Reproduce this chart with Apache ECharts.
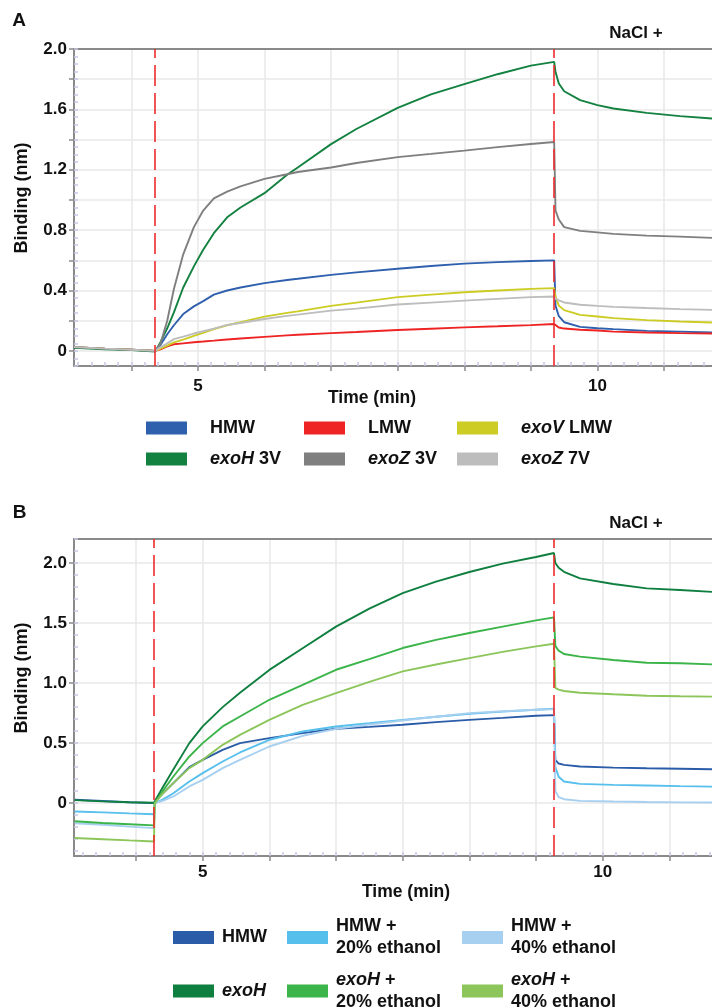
<!DOCTYPE html>
<html>
<head>
<meta charset="utf-8">
<script src="https://cdn.jsdelivr.net/npm/echarts@6/dist/echarts.min.js"></script>
<style>
html, body { margin: 0; padding: 0; background: #fff; }
#chart { width: 712px; height: 1008px; }
</style>
</head>
<body>
<div id="chart"></div>
<script>
const FONT = '"Liberation Sans", Arial, Helvetica, sans-serif';

// ---- panel A (time in seconds) ----
const timeA = [207, 230, 250, 268, 272, 277, 282, 289, 297, 304, 312, 322, 332, 350, 367, 375, 400, 419,
    450, 475, 500, 525, 550, 567.5, 568.5, 571, 575, 587, 600, 612, 637, 662, 686];
const hmwA = [0.025, 0.015, 0.008, 0.0, 0.04, 0.11, 0.17, 0.244, 0.295, 0.33, 0.373, 0.40, 0.42, 0.449, 0.47, 0.478, 0.504, 0.52,
    0.544, 0.562, 0.578, 0.588, 0.596, 0.6, 0.30, 0.23, 0.19, 0.159, 0.15, 0.144, 0.133, 0.128, 0.122];
const lmwA = [0.025, 0.015, 0.008, 0.0, 0.01, 0.03, 0.044, 0.05, 0.057, 0.062, 0.068, 0.076, 0.082, 0.093, 0.103, 0.107, 0.118, 0.125,
    0.138, 0.147, 0.156, 0.163, 0.171, 0.178, 0.165, 0.155, 0.148, 0.14, 0.135, 0.128, 0.122, 0.118, 0.115];
const exoVA = [0.025, 0.015, 0.008, 0.0, 0.015, 0.035, 0.056, 0.075, 0.1, 0.12, 0.145, 0.17, 0.19, 0.227, 0.252, 0.262, 0.298, 0.32,
    0.356, 0.373, 0.389, 0.4, 0.411, 0.416, 0.36, 0.3, 0.27, 0.239, 0.228, 0.217, 0.204, 0.195, 0.188];
const exoH3A = [0.02, 0.01, 0.005, -0.005, 0.06, 0.15, 0.255, 0.42, 0.56, 0.67, 0.78, 0.885, 0.95, 1.045, 1.167, 1.215, 1.37, 1.47,
    1.61, 1.70, 1.767, 1.833, 1.89, 1.915, 1.85, 1.772, 1.72, 1.661, 1.628, 1.606, 1.577, 1.555, 1.54];
const exoZ3A = [0.025, 0.015, 0.008, 0.0, 0.05, 0.2, 0.41, 0.64, 0.82, 0.93, 1.01, 1.055, 1.09, 1.14, 1.17, 1.185, 1.215, 1.245,
    1.284, 1.305, 1.327, 1.35, 1.371, 1.384, 0.93, 0.87, 0.82, 0.795, 0.785, 0.775, 0.764, 0.757, 0.749];
const exoZ7A = [0.025, 0.015, 0.008, 0.0, 0.025, 0.05, 0.078, 0.095, 0.115, 0.13, 0.148, 0.172, 0.185, 0.211, 0.232, 0.24, 0.267, 0.28,
    0.307, 0.32, 0.333, 0.345, 0.356, 0.36, 0.345, 0.335, 0.321, 0.306, 0.298, 0.292, 0.284, 0.277, 0.272];
const eventsA = [268, 567.5];

// ---- panel B ----
const timeB = [204, 225, 245, 263.5, 264, 270, 278, 290, 300, 315, 328, 350, 375, 400, 425, 450, 475, 500, 525, 550, 563.5,
    564.5, 567, 571, 583, 608, 633, 658, 682];
const hmwB = [0.028, 0.018, 0.008, 0.0, 0.0, 0.08, 0.167, 0.3, 0.361, 0.444, 0.5, 0.542, 0.583, 0.62, 0.635, 0.653, 0.675, 0.694, 0.71, 0.728, 0.733,
    0.36, 0.33, 0.319, 0.305, 0.296, 0.291, 0.287, 0.283];
const hmw20B = [-0.069, -0.077, -0.085, -0.092, 0.0, 0.03, 0.083, 0.181, 0.25, 0.347, 0.422, 0.528, 0.597, 0.639, 0.665, 0.694, 0.72, 0.744, 0.762, 0.778, 0.786,
    0.3, 0.22, 0.18, 0.161, 0.152, 0.147, 0.142, 0.138];
const hmw40B = [-0.167, -0.18, -0.195, -0.208, 0.0, 0.02, 0.056, 0.139, 0.194, 0.292, 0.361, 0.472, 0.561, 0.619, 0.655, 0.689, 0.72, 0.75, 0.765, 0.778, 0.783,
    0.1, 0.05, 0.033, 0.019, 0.014, 0.01, 0.007, 0.005];
const exoHB = [0.025, 0.015, 0.008, 0.003, 0.0, 0.13, 0.28, 0.5, 0.64, 0.8, 0.92, 1.11, 1.29, 1.47, 1.62, 1.75, 1.845, 1.925, 1.995, 2.05, 2.083,
    2.0, 1.96, 1.927, 1.872, 1.825, 1.789, 1.775, 1.76];
const exoH20B = [-0.15, -0.165, -0.175, -0.185, 0.0, 0.1, 0.222, 0.389, 0.5, 0.639, 0.722, 0.861, 0.986, 1.111, 1.2, 1.292, 1.36, 1.417, 1.47, 1.522, 1.547,
    1.31, 1.27, 1.242, 1.22, 1.192, 1.17, 1.165, 1.156];
const exoH40B = [-0.29, -0.3, -0.31, -0.319, 0.0, 0.08, 0.167, 0.292, 0.361, 0.486, 0.569, 0.694, 0.819, 0.917, 1.01, 1.097, 1.155, 1.208, 1.26, 1.306, 1.328,
    0.96, 0.945, 0.934, 0.92, 0.907, 0.895, 0.89, 0.887];
const eventsB = [263.5, 563.5];

// ---- ticks ----
const majorTicksX = [250, 300, 350, 400, 450, 500, 550, 600, 650];
const labelTicksX = [300, 600];
const ticksYA = [0, 0.2, 0.4, 0.6, 0.8, 1.0, 1.2, 1.4, 1.6, 1.8, 2.0];
const labelsYA = [0, 0.4, 0.8, 1.2, 1.6, 2.0];
const ticksYB = [0, 0.5, 1.0, 1.5, 2.0];

function steps(a, b, step) {
    const out = [];
    for (let v = a; v <= b + 1e-9; v += step) out.push(+v.toFixed(4));
    return out;
}

const AXIS_GRAY = '#8a8a8a';
const MINOR = '#c6c6e4';
const GRIDC = '#e8e8e8';
const labelStyle = { color: '#111', fontSize: 17, fontWeight: 'bold', fontFamily: FONT };

function xAxes(g, min, max, margin) {
    return [
        {
            type: 'value', gridIndex: g, min: min, max: max, position: 'bottom',
            axisLine: { show: true, onZero: false, lineStyle: { color: AXIS_GRAY, width: 2 } },
            axisTick: { show: true, customValues: majorTicksX, length: 5, lineStyle: { color: AXIS_GRAY, width: 1.5 } },
            axisLabel: Object.assign({ customValues: labelTicksX, margin: margin, formatter: v => String(v / 60) }, labelStyle),
            splitLine: { show: true, lineStyle: { color: GRIDC, width: 1.5 } }
        },
        {
            type: 'value', gridIndex: g, min: min, max: max, position: 'bottom',
            axisLine: { show: false, onZero: false },
            axisTick: { show: true, inside: true, length: 4, customValues: steps(210, 680, 10), lineStyle: { color: MINOR, width: 1.5 } },
            axisLabel: { show: false }, splitLine: { show: false }
        },
        {
            type: 'value', gridIndex: g, min: min, max: max, position: 'top',
            axisLine: { show: true, onZero: false, lineStyle: { color: AXIS_GRAY, width: 2 } },
            axisTick: { show: false }, axisLabel: { show: false }, splitLine: { show: false }
        }
    ];
}

function yAxes(g, min, max, ticks, labels, minor) {
    return [
        {
            type: 'value', gridIndex: g, min: min, max: max, position: 'left',
            axisLine: { show: true, onZero: false, lineStyle: { color: AXIS_GRAY, width: 2 } },
            axisTick: { show: true, customValues: ticks, length: 5, lineStyle: { color: AXIS_GRAY, width: 1.5 } },
            axisLabel: Object.assign({ customValues: labels, margin: 7, formatter: v => v === 0 ? '0' : v.toFixed(1) }, labelStyle),
            splitLine: { show: true, lineStyle: { color: GRIDC, width: 1.5 } }
        },
        {
            type: 'value', gridIndex: g, min: min, max: max, position: 'left',
            axisLine: { show: false, onZero: false },
            axisTick: { show: true, inside: true, length: 4, customValues: minor, lineStyle: { color: MINOR, width: 1.5 } },
            axisLabel: { show: false }, splitLine: { show: false }
        }
    ];
}

const seriesA = [
    { name: 'HMW', vals: hmwA, color: '#2f60ae' },
    { name: 'LMW', vals: lmwA, color: '#ee2424' },
    { name: 'exoV LMW', vals: exoVA, color: '#cccc24' },
    { name: 'exoH 3V', vals: exoH3A, color: '#138140' },
    { name: 'exoZ 3V', vals: exoZ3A, color: '#7f7f7f' },
    { name: 'exoZ 7V', vals: exoZ7A, color: '#bdbdbd' }
];
const seriesB = [
    { name: 'HMW ', vals: hmwB, color: '#2b5ca8' },
    { name: 'HMW + 20% ethanol', vals: hmw20B, color: '#56bfec' },
    { name: 'HMW + 40% ethanol', vals: hmw40B, color: '#a6cff0' },
    { name: 'exoH', vals: exoHB, color: '#0f7f3f' },
    { name: 'exoH + 20% ethanol', vals: exoH20B, color: '#3bb44a' },
    { name: 'exoH + 40% ethanol', vals: exoH40B, color: '#8cc65a' }
];

const legendText = {
    'HMW': 'HMW', 'LMW': 'LMW', 'exoV LMW': '{i|exoV} LMW',
    'exoH 3V': '{i|exoH} 3V', 'exoZ 3V': '{i|exoZ} 3V', 'exoZ 7V': '{i|exoZ} 7V',
    'HMW ': 'HMW', 'HMW + 20% ethanol': 'HMW +\n20% ethanol', 'HMW + 40% ethanol': 'HMW +\n40% ethanol',
    'exoH': '{i|exoH}', 'exoH + 20% ethanol': '{i|exoH} +\n20% ethanol', 'exoH + 40% ethanol': '{i|exoH} +\n40% ethanol'
};

function makeSeries(list, time, xi, yi, events) {
    return list.map((s, k) => {
        const out = {
            name: s.name, type: 'line', xAxisIndex: xi, yAxisIndex: yi,
            data: time.map((t, i) => [t, s.vals[i]]),
            showSymbol: false, symbol: 'none', smooth: false,
            lineStyle: { color: s.color, width: 1.9 },
            itemStyle: { color: s.color },
            z: 3
        };
        if (k === 0) {
            out.markLine = {
                silent: true, symbol: ['none', 'none'], label: { show: false },
                lineStyle: { color: '#ee2b2b', width: 1.6, type: [21, 7] },
                data: events.map(e => ({ xAxis: e })),
                z: 5
            };
        }
        return out;
    });
}

function makeLegends(list, cols, rows, gap, lineH, twoLine) {
    return list.map((s, k) => {
        const h = twoLine[k] ? lineH * 2 : 20;
        return {
            data: [{ name: s.name, icon: 'rect', itemStyle: { color: s.color } }],
            left: cols[k % 3], top: rows[Math.floor(k / 3)] - h / 2,
            padding: 0, itemWidth: 41, itemHeight: 13, selectedMode: false,
            formatter: n => legendText[n],
            textStyle: {
                color: '#111', fontSize: 18, fontWeight: 'bold', fontFamily: FONT,
                lineHeight: twoLine[k] ? lineH : 20, padding: [0, 0, 0, gap],
                rich: { i: { fontStyle: 'italic', fontWeight: 'bold', fontSize: 18, fontFamily: FONT, lineHeight: twoLine[k] ? lineH : 20 } }
            }
        };
    });
}

function label(text, x, y, size, rot) {
    return {
        type: 'text', x: x, y: y, rotation: rot || 0,
        style: {
            text: text, fill: '#111', font: 'bold ' + size + 'px ' + FONT,
            align: 'center', verticalAlign: 'middle', textAlign: 'center', textVerticalAlign: 'middle'
        }
    };
}

const chart = echarts.init(document.getElementById('chart'));
chart.setOption({
    animation: false,
    backgroundColor: '#fff',
    grid: [
        { left: 74, top: 49, width: 638, height: 317 },
        { left: 74, top: 539, width: 638, height: 317 }
    ],
    xAxis: xAxes(0, 207, 686, 12).concat(xAxes(1, 203.5, 682, 8)),
    yAxis: yAxes(0, -0.1, 2.0, ticksYA, labelsYA, steps(-0.1, 2.0, 0.05))
        .concat(yAxes(1, -0.44, 2.2, ticksYB, ticksYB, steps(-0.4, 2.2, 0.1))),
    legend: makeLegends(seriesA, [146, 304, 457], [428, 459], 18, 20, [false, false, false, false, false, false])
        .concat(makeLegends(seriesB, [173, 287, 462], [937.5, 991], 3, 22, [false, true, true, false, true, true])),
    graphic: [
        label('A', 19, 21, 19),
        label('B', 19.5, 513, 19),
        label('NaCl +', 636, 33.5, 17),
        label('NaCl +', 636, 523, 17),
        label('Time (min)', 372, 398, 17.5),
        label('Time (min)', 406, 892, 17.5),
        label('Binding (nm)', 22, 198, 18, Math.PI / 2),
        label('Binding (nm)', 22, 678, 18, Math.PI / 2)
    ],
    series: makeSeries(seriesA, timeA, 0, 0, eventsA).concat(makeSeries(seriesB, timeB, 3, 2, eventsB))
});
</script>
</body>
</html>
